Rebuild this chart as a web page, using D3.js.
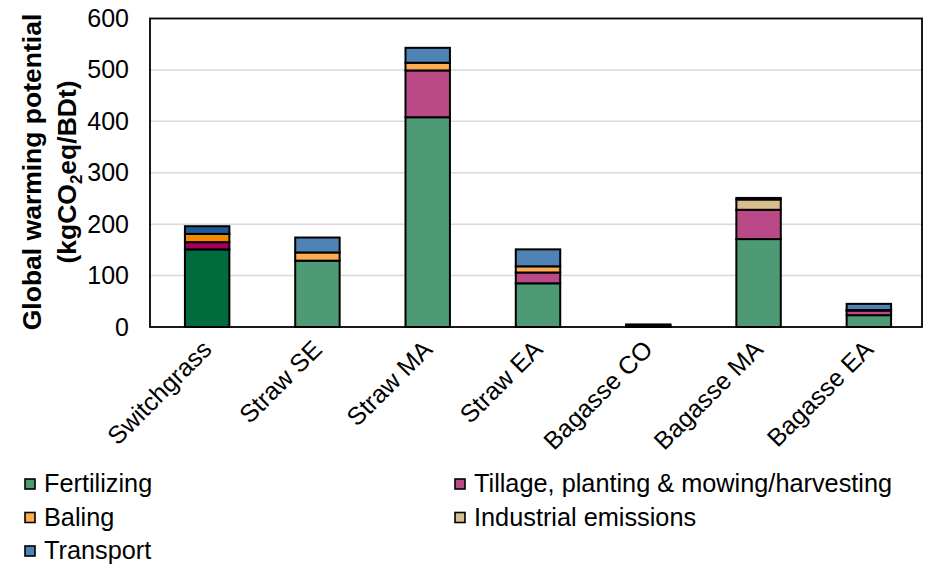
<!DOCTYPE html>
<html>
<head>
<meta charset="utf-8">
<script src="https://cdn.jsdelivr.net/npm/d3@7/dist/d3.min.js"></script>
<style>
  html, body { margin: 0; padding: 0; background: #fff; }
  svg text { font-family: "Liberation Sans", Arial, sans-serif; fill: #000; }
</style>
</head>
<body>
<svg id="chart" width="930" height="566"></svg>
<script>
// Feedstocks along the x axis
const categories = ["Switchgrass", "Straw SE", "Straw MA", "Straw EA", "Bagasse CO", "Bagasse MA", "Bagasse EA"];

// Emission contributions per stage (kgCO2eq/BDt), stacked bottom to top
const fertilizing = [151, 129, 408, 85, 0, 171, 23];
const tillage     = [14, 0, 91, 21, 0, 57, 9];
const baling      = [16, 16, 15, 12, 0, 0, 1];
const industrial  = [0, 0, 0, 0, 2, 20, 0];
const transport   = [15, 29, 29, 33, 3, 3, 12];

const seriesNames = ["Fertilizing", "Tillage, planting & mowing/harvesting", "Baling", "Industrial emissions", "Transport"];
const seriesColors = ["#4e9a74", "#ba4a87", "#ffab4f", "#d8be8f", "#5083b5"];
// Switchgrass bar is drawn in deeper shades
const switchgrassColors = ["#006b3c", "#a3005c", "#f28a00", "#c9a86a", "#1d5a98"];

const yTicks = [0, 100, 200, 300, 400, 500, 600];

const svg = d3.select("#chart");
const plot = { left: 150, right: 922, top: 18.5, bottom: 327 };

const x = d3.scaleBand().domain(categories).range([plot.left + 2, plot.right + 2])
  .paddingInner(0.597).paddingOuter(0.2985);
const y = d3.scaleLinear().domain([0, 600]).range([plot.bottom, plot.top]);

// Gridlines
svg.append("g").selectAll("line").data(yTicks.filter(d => d > 0 && d < 600)).join("line")
  .attr("x1", plot.left).attr("x2", plot.right)
  .attr("y1", d => y(d)).attr("y2", d => y(d))
  .attr("stroke", "#d9d9d9").attr("stroke-width", 1.5);

// Stack the series
const rows = categories.map((c, i) => ({
  cat: c, i,
  v: [fertilizing[i], tillage[i], baling[i], industrial[i], transport[i]]
}));
const stack = d3.stack().keys([0, 1, 2, 3, 4]).value((d, k) => d.v[k]);
const stacked = stack(rows);

const bars = svg.append("g");
stacked.forEach((layer, k) => {
  bars.selectAll(null).data(layer.filter(s => s[1] - s[0] > 0)).join("rect")
    .attr("x", s => x(s.data.cat))
    .attr("width", x.bandwidth())
    .attr("y", s => y(s[1]))
    .attr("height", s => y(s[0]) - y(s[1]))
    .attr("fill", s => (s.data.i === 0 ? switchgrassColors : seriesColors)[k])
    .attr("stroke", "#000").attr("stroke-width", 2);
});

// Plot frame
svg.append("rect")
  .attr("x", plot.left).attr("y", plot.top)
  .attr("width", plot.right - plot.left).attr("height", plot.bottom - plot.top)
  .attr("fill", "none").attr("stroke", "#000").attr("stroke-width", 1.8);

// Y axis tick labels
const yAxis = d3.axisLeft(y).tickValues(yTicks).tickSize(0).tickPadding(21);
const yg = svg.append("g").attr("transform", `translate(${plot.left},0)`).call(yAxis);
yg.select(".domain").remove();
yg.selectAll("text").attr("font-size", 25).attr("font-family", "Liberation Sans, Arial, sans-serif").attr("fill", "#000");

// X axis labels, rotated
const xAxis = d3.axisBottom(x).tickSize(0).tickPadding(0);
const xg = svg.append("g").attr("transform", `translate(0,${plot.bottom})`).call(xAxis);
xg.select(".domain").remove();
xg.selectAll("text")
  .attr("font-size", 25).attr("font-family", "Liberation Sans, Arial, sans-serif").attr("fill", "#000")
  .attr("text-anchor", "end").attr("dy", null).attr("y", 0)
  .attr("transform", "translate(6,24) rotate(-45)");

// Y axis title
const title = svg.append("text")
  .attr("transform", "translate(41,172) rotate(-90)")
  .attr("text-anchor", "middle").attr("font-size", 26.5).attr("font-weight", "bold");
title.append("tspan").attr("x", 0).attr("y", 0).text("Global warming potential");
const line2 = title.append("tspan").attr("x", 0).attr("y", 35);
line2.append("tspan").text("(kgCO");
line2.append("tspan").attr("dy", 6).attr("font-size", 17).text("2");
line2.append("tspan").attr("dy", -6).text("eq/BDt)");

// Legend
const legendItems = [
  { name: seriesNames[0], color: seriesColors[0], x: 44, y: 492 },
  { name: seriesNames[2], color: seriesColors[2], x: 44, y: 525.5 },
  { name: seriesNames[4], color: seriesColors[4], x: 44, y: 559 },
  { name: seriesNames[1], color: seriesColors[1], x: 474, y: 492 },
  { name: seriesNames[3], color: seriesColors[3], x: 474, y: 525.5 }
];
const lg = svg.append("g").selectAll("g").data(legendItems).join("g");
lg.append("rect")
  .attr("x", d => d.x - 19).attr("y", d => d.y - 13)
  .attr("width", 10).attr("height", 10)
  .attr("fill", d => d.color).attr("stroke", "#000").attr("stroke-width", 1.6);
lg.append("text")
  .attr("x", d => d.x).attr("y", d => d.y)
  .attr("font-size", 25.3).text(d => d.name);
</script>
</body>
</html>
